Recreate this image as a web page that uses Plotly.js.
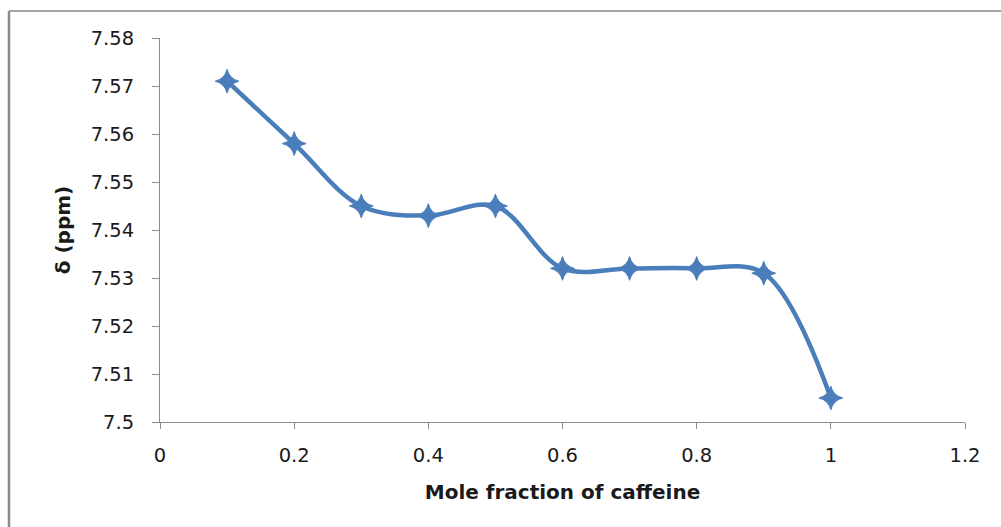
<!DOCTYPE html>
<html>
<head>
<meta charset="utf-8">
<script src="https://cdn.plot.ly/plotly-3.0.1.min.js"></script>
<style>
html,body{margin:0;padding:0;background:#fff;}
#chart{width:1001px;height:527px;}
</style>
</head>
<body>
<div id="chart"></div>
<script>
const moleFraction = [0.1, 0.2, 0.3, 0.4, 0.5, 0.6, 0.7, 0.8, 0.9, 1.0];
const shiftPpm = [7.571, 7.558, 7.545, 7.543, 7.545, 7.532, 7.532, 7.532, 7.531, 7.505];
const xTickVals = [0, 0.2, 0.4, 0.6, 0.8, 1, 1.2];
const xTickText = ['0', '0.2', '0.4', '0.6', '0.8', '1', '1.2'];
const yTickVals = [7.5, 7.51, 7.52, 7.53, 7.54, 7.55, 7.56, 7.57, 7.58];
const yTickText = ['7.5', '7.51', '7.52', '7.53', '7.54', '7.55', '7.56', '7.57', '7.58'];

const lineColor = '#4a7ebb';
const tickFont = {family: 'DejaVu Sans, Verdana, sans-serif', size: 19.5, color: '#1a1a1a'};
const titleFont = {family: 'DejaVu Sans, Verdana, sans-serif', size: 20, color: '#1a1a1a', weight: 'bold'};

const trace = {
  x: moleFraction,
  y: shiftPpm,
  type: 'scatter',
  mode: 'lines+markers',
  line: {color: lineColor, width: 4.5, shape: 'spline', smoothing: 1},
  marker: {symbol: 'star-diamond', size: 17, color: lineColor, line: {color: lineColor, width: 1}},
  hoverinfo: 'x+y'
};

const layout = {
  width: 1001,
  height: 527,
  margin: {l: 160, r: 36, t: 38, b: 105},
  paper_bgcolor: '#ffffff',
  plot_bgcolor: '#ffffff',
  showlegend: false,
  xaxis: {
    range: [0, 1.2],
    tickmode: 'array',
    tickvals: xTickVals,
    ticktext: xTickText,
    showgrid: false,
    zeroline: false,
    showline: true,
    linecolor: '#8c8c8c',
    linewidth: 1,
    ticks: 'outside',
    ticklen: 6,
    tickcolor: '#8c8c8c',
    tickfont: tickFont,
    ticklabelstandoff: 10,
    title: {text: 'Mole fraction of caffeine', font: titleFont, standoff: 18}
  },
  yaxis: {
    range: [7.5, 7.58],
    tickmode: 'array',
    tickvals: yTickVals,
    ticktext: yTickText,
    showgrid: false,
    zeroline: false,
    showline: true,
    linecolor: '#8c8c8c',
    linewidth: 1,
    ticks: 'outside',
    ticklen: 7,
    tickcolor: '#8c8c8c',
    tickfont: tickFont,
    ticklabelstandoff: 14,
    title: {text: 'δ (ppm)', font: titleFont, standoff: 14}
  },
  shapes: [
    {type: 'line', xref: 'paper', yref: 'paper', x0: -0.1876, x1: 1.05, y0: 1.0703, y1: 1.0703,
     line: {color: '#a6a6a6', width: 2}},
    {type: 'line', xref: 'paper', yref: 'paper', x0: -0.1876, x1: -0.1876, y0: 1.0703, y1: -0.3,
     line: {color: '#8a8a8a', width: 2.5}}
  ]
};

Plotly.newPlot('chart', [trace], layout, {displayModeBar: false, staticPlot: true});
</script>
</body>
</html>
